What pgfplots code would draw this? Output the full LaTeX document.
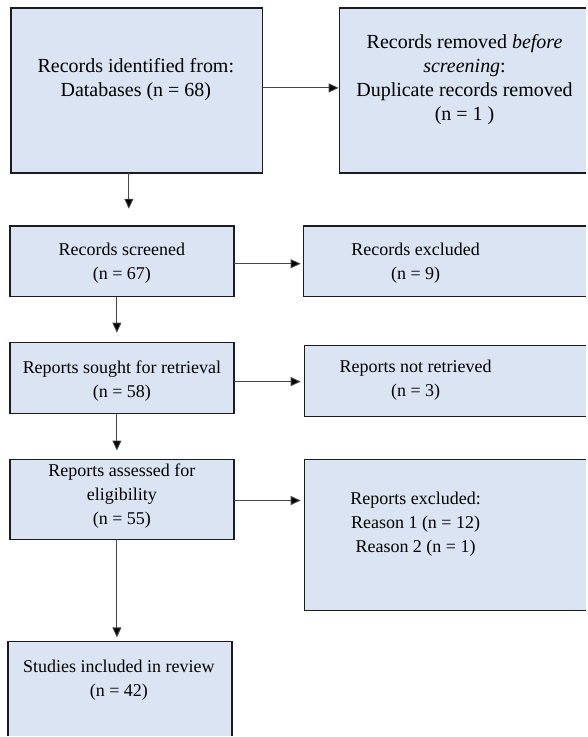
\documentclass[border=0pt]{standalone}
\usepackage{fontspec}
\setmainfont{Liberation Serif}
\usepackage{pgfplots}
\pgfplotsset{compat=1.18}
\usetikzlibrary{arrows.meta}
\definecolor{boxfill}{RGB}{219,228,242}
\definecolor{boxline}{RGB}{28,28,28}
\definecolor{arr}{RGB}{70,70,70}
\begin{document}
\begin{tikzpicture}
\begin{axis}[scale only axis, width=587pt, height=737pt,
  xmin=0, xmax=587, ymin=0, ymax=737, y dir=reverse,
  hide axis, clip=false]
\tikzset{
  bx/.style={fill=boxfill, draw=boxline, line width=1.5pt},
  bl/.style={draw=boxline, line width=1.5pt},
  ar/.style={draw=arr, line width=0.9pt, -{Triangle[length=10pt,width=9pt,fill=black]}},
  txt/.style={align=center, font=\fontsize{20}{24}\selectfont, text=black, inner sep=0pt},
  txs/.style={align=center, font=\fontsize{18}{24}\selectfont, text=black, inner sep=0pt}
}
\path (axis cs:0,0) rectangle (axis cs:587,737);
% boxes
\filldraw[bx] (axis cs:11,8) rectangle (axis cs:263,173);
\fill[boxfill] (axis cs:340,8) rectangle (axis cs:587,173);
\draw[bl] (axis cs:587,8) -- (axis cs:340,8) -- (axis cs:340,173) -- (axis cs:587,173);
\filldraw[bx] (axis cs:10,226) rectangle (axis cs:234,297);
\fill[boxfill] (axis cs:304,226) rectangle (axis cs:587,297);
\draw[bl] (axis cs:587,226) -- (axis cs:304,226) -- (axis cs:304,297) -- (axis cs:587,297);
\filldraw[bx] (axis cs:10,343) rectangle (axis cs:234,414);
\fill[boxfill] (axis cs:305,346) rectangle (axis cs:587,417);
\draw[bl] (axis cs:587,346) -- (axis cs:305,346) -- (axis cs:305,417) -- (axis cs:587,417);
\filldraw[bx] (axis cs:10,460) rectangle (axis cs:234,540);
\fill[boxfill] (axis cs:305,460) rectangle (axis cs:587,611);
\draw[bl] (axis cs:587,460) -- (axis cs:305,460) -- (axis cs:305,611) -- (axis cs:587,611);
\fill[boxfill] (axis cs:8,642) rectangle (axis cs:232,737);
\draw[bl] (axis cs:8,737) -- (axis cs:8,642) -- (axis cs:232,642) -- (axis cs:232,737);
% arrows
\draw[ar] (axis cs:263,88) -- (axis cs:339,88);
\draw[ar] (axis cs:129,173) -- (axis cs:129,209);
\draw[ar] (axis cs:234,264) -- (axis cs:301,264);
\draw[ar] (axis cs:117,297) -- (axis cs:117,333);
\draw[ar] (axis cs:234,382) -- (axis cs:301,382);
\draw[ar] (axis cs:117,414) -- (axis cs:117,451);
\draw[ar] (axis cs:234,501) -- (axis cs:301,501);
\draw[ar] (axis cs:117,540) -- (axis cs:117,638);
% texts
\node[txt] at (axis cs:136,80) {Records identified from:\\Databases (n = 68)};
\node[txt] at (axis cs:465,80) {Records removed \textit{before}\\\textit{screening}:\\Duplicate records removed\\(n = 1 )};
\node[txs] at (axis cs:122,263) {Records screened\\(n = 67)};
\node[txs] at (axis cs:416,263) {Records excluded\\(n = 9)};
\node[txs] at (axis cs:122,381) {Reports sought for retrieval\\(n = 58)};
\node[txs] at (axis cs:416,381) {Reports not retrieved\\(n = 3)};
\node[txs] at (axis cs:122,497) {Reports assessed for\\eligibility\\(n = 55)};
\node[txs] at (axis cs:416,525) {Reports excluded:\\Reason 1 (n = 12)\\Reason 2 (n = 1)};
\node[txs] at (axis cs:119,681) {Studies included in review\\(n = 42)};
\end{axis}
\end{tikzpicture}
\end{document}
